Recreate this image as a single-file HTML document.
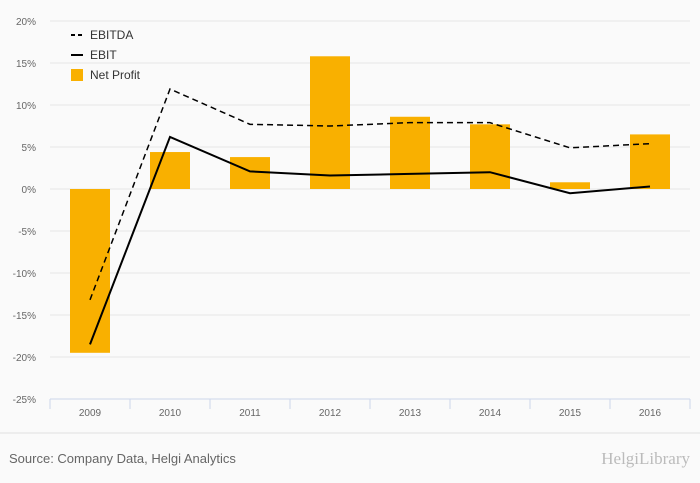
<!DOCTYPE html>
<html><head><meta charset="utf-8"><style>
body{margin:0;background:#fafafa;font-family:"Liberation Sans",sans-serif}
svg{display:block}
</style></head><body>
<svg width="700" height="483" id="c">
<rect width="700" height="483" fill="#fafafa"/>
<g id="grid"></g><g id="bars"></g><g id="lines"></g><g id="xaxis"></g>
<g>
<line x1="71" y1="35" x2="83" y2="35" stroke="#000" stroke-width="2" stroke-dasharray="4,3"/>
<text x="90" y="39" font-size="12" fill="#333">EBITDA</text>
<line x1="71" y1="55" x2="83" y2="55" stroke="#000" stroke-width="2"/>
<text x="90" y="59" font-size="12" fill="#333">EBIT</text>
<rect x="71" y="69" width="12" height="12" fill="#f9b000"/>
<text x="90" y="79" font-size="12" fill="#333">Net Profit</text>
</g>
<line x1="0" y1="433" x2="700" y2="433" stroke="#e0e0e0"/>
<text x="9" y="463" font-size="13" fill="#666">Source: Company Data, Helgi Analytics</text>
<text x="690" y="464" font-size="17" fill="#bbb" text-anchor="end" font-family="Liberation Serif,serif">HelgiLibrary</text>
</svg>
<script>
const categories=["2009","2010","2011","2012","2013","2014","2015","2016"];
const netProfit=[-19.5,4.4,3.8,15.8,8.6,7.7,0.8,6.5];
const ebitda=[-13.2,11.9,7.7,7.5,7.9,7.9,4.9,5.4];
const ebit=[-18.5,6.2,2.1,1.6,1.8,2.0,-0.5,0.3];
const ticks=[20,15,10,5,0,-5,-10,-15,-20,-25];
const NS="http://www.w3.org/2000/svg";
const x0=50,x1=690,step=(x1-x0)/categories.length;
const y=v=>189-v*8.4;
const xc=i=>x0+step*(i+0.5);
function mk(t,a,p){const e=document.createElementNS(NS,t);for(const k in a)e.setAttribute(k,a[k]);document.getElementById(p).appendChild(e);return e;}
ticks.forEach(t=>{
 const l=mk('line',{x1:x0,x2:x1,y1:y(t),y2:y(t),stroke:'#e6e6e6'},'grid');
 
 
 const tx=mk('text',{x:36,y:y(t)+4,'font-size':10,fill:'#666','text-anchor':'end'},'grid');
 tx.textContent=t+'%';
 
 
});
const ax=mk('line',{x1:x0,x2:x1,y1:y(-25),y2:y(-25),stroke:'#ccd6eb'},'xaxis');


categories.forEach((c,i)=>{
 const tk=mk('line',{x1:x0+step*i,x2:x0+step*i,y1:y(-25),y2:y(-25)+10,stroke:'#ccd6eb'},'xaxis');
 
 
 const t=mk('text',{x:xc(i),y:y(-25)+17,'font-size':10,fill:'#666','text-anchor':'middle'},'xaxis');
 t.textContent=c;
 
 
 const v=netProfit[i];
 const b=mk('rect',{x:xc(i)-20,width:40,y:Math.min(y(v),y(0)),height:Math.abs(y(v)-y(0)),fill:'#f9b000'},'bars');
 
 
});
const tk=mk('line',{x1:x1,x2:x1,y1:y(-25),y2:y(-25)+10,stroke:'#ccd6eb'},'xaxis');


function path(d){return d.map((v,i)=>(i?'L':'M')+xc(i)+','+y(v)).join('');}
const l1=mk('path',{d:path(ebitda),fill:'none',stroke:'#000','stroke-width':1.5,'stroke-dasharray':'6,4'},'lines');


const l2=mk('path',{d:path(ebit),fill:'none',stroke:'#000','stroke-width':2},'lines');


</script>
</body></html>
